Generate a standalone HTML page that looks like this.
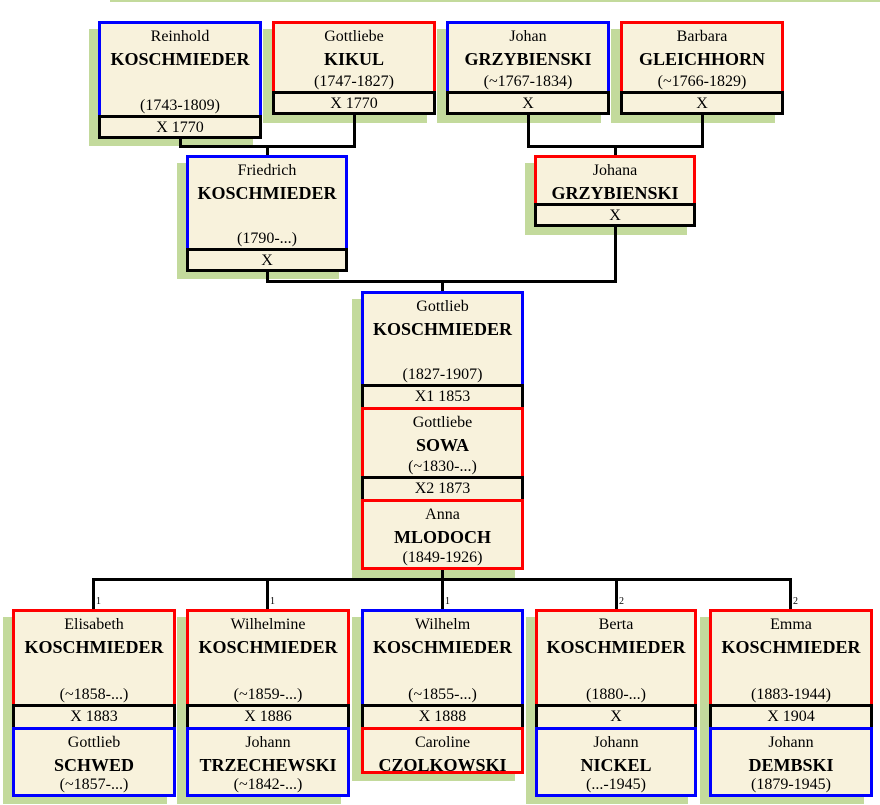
<!DOCTYPE html>
<html><head><meta charset="utf-8"><style>
body{margin:0;width:880px;height:805px;position:relative;background:#fff;font-family:"Liberation Serif",serif;color:#000;overflow:hidden}
.s{position:absolute;background:#c3da9c}
.b{position:absolute;box-sizing:border-box;border:3px solid #000;background:#f8f2dc;text-align:center}
.bl{border-color:#0000ff}.r{border-color:#ff0000}
.k{font-size:16px;line-height:20px}
.g{position:absolute;top:3px;left:0;right:0;font-size:16px;line-height:19px}
.n{position:absolute;top:24px;left:-4px;right:-4px;font-size:18px;line-height:22px;font-weight:bold}
.d{position:absolute;bottom:0px;left:0;right:0;font-size:16px;line-height:19px}
.l{position:absolute;background:#000}
.m{position:absolute;font-size:10px}
</style></head><body>
<div class="s" style="left:110px;top:0;width:770px;height:2px"></div>

<div class="s" style="left:89px;top:29px;width:164px;height:117px"></div>
<div class="s" style="left:263px;top:29px;width:164px;height:94px"></div>
<div class="s" style="left:437px;top:29px;width:164px;height:94px"></div>
<div class="s" style="left:611px;top:29px;width:164px;height:94px"></div>
<div class="s" style="left:177px;top:163px;width:162px;height:116px"></div>
<div class="s" style="left:525px;top:163px;width:162px;height:72px"></div>
<div class="s" style="left:352px;top:299px;width:163px;height:279px"></div>
<div class="s" style="left:3px;top:617px;width:164px;height:187px"></div>
<div class="s" style="left:177px;top:617px;width:164px;height:187px"></div>
<div class="s" style="left:352px;top:617px;width:163px;height:164px"></div>
<div class="s" style="left:526px;top:617px;width:162px;height:187px"></div>
<div class="s" style="left:700px;top:617px;width:164px;height:187px"></div>

<div class="l" style="left:179px;top:137px;width:3px;height:11px"></div>
<div class="l" style="left:353px;top:114px;width:3px;height:34px"></div>
<div class="l" style="left:179px;top:145px;width:177px;height:3px"></div>
<div class="l" style="left:266px;top:145px;width:3px;height:11px"></div>
<div class="l" style="left:527px;top:114px;width:3px;height:34px"></div>
<div class="l" style="left:701px;top:114px;width:3px;height:34px"></div>
<div class="l" style="left:527px;top:145px;width:177px;height:3px"></div>
<div class="l" style="left:614px;top:145px;width:3px;height:11px"></div>
<div class="l" style="left:266px;top:270px;width:3px;height:13px"></div>
<div class="l" style="left:614px;top:226px;width:3px;height:57px"></div>
<div class="l" style="left:266px;top:280px;width:351px;height:3px"></div>
<div class="l" style="left:441px;top:280px;width:3px;height:12px"></div>
<div class="l" style="left:441px;top:568px;width:3px;height:12px"></div>
<div class="l" style="left:92px;top:578px;width:700px;height:3px"></div>
<div class="l" style="left:92px;top:578px;width:3px;height:32px"></div>
<div class="l" style="left:266px;top:578px;width:3px;height:32px"></div>
<div class="l" style="left:441px;top:578px;width:3px;height:32px"></div>
<div class="l" style="left:615px;top:578px;width:3px;height:32px"></div>
<div class="l" style="left:789px;top:578px;width:3px;height:32px"></div>
<div class="m" style="left:96px;top:596px">1</div>
<div class="m" style="left:270px;top:596px">1</div>
<div class="m" style="left:445px;top:596px">1</div>
<div class="m" style="left:619px;top:596px">2</div>
<div class="m" style="left:793px;top:596px">2</div>

<div class="b bl" style="left:98px;top:21px;width:164px;height:97px"><div class="g">Reinhold</div><div class="n">KOSCHMIEDER</div><div class="d">(1743-1809)</div></div>
<div class="b k" style="left:98px;top:115px;width:164px;height:24px">X 1770</div>
<div class="b r" style="left:272px;top:21px;width:164px;height:73px"><div class="g">Gottliebe</div><div class="n">KIKUL</div><div class="d">(1747-1827)</div></div>
<div class="b k" style="left:272px;top:91px;width:164px;height:24px">X 1770</div>
<div class="b bl" style="left:446px;top:21px;width:164px;height:73px"><div class="g">Johan</div><div class="n">GRZYBIENSKI</div><div class="d">(~1767-1834)</div></div>
<div class="b k" style="left:446px;top:91px;width:164px;height:24px">X</div>
<div class="b r" style="left:620px;top:21px;width:164px;height:73px"><div class="g">Barbara</div><div class="n">GLEICHHORN</div><div class="d">(~1766-1829)</div></div>
<div class="b k" style="left:620px;top:91px;width:164px;height:24px">X</div>

<div class="b bl" style="left:186px;top:155px;width:162px;height:96px"><div class="g">Friedrich</div><div class="n">KOSCHMIEDER</div><div class="d">(1790-...)</div></div>
<div class="b k" style="left:186px;top:248px;width:162px;height:24px">X</div>
<div class="b r" style="left:534px;top:155px;width:162px;height:51px"><div class="g">Johana</div><div class="n">GRZYBIENSKI</div></div>
<div class="b k" style="left:534px;top:203px;width:162px;height:24px">X</div>

<div class="b bl" style="left:361px;top:291px;width:163px;height:96px"><div class="g">Gottlieb</div><div class="n">KOSCHMIEDER</div><div class="d">(1827-1907)</div></div>
<div class="b k" style="left:361px;top:384px;width:163px;height:26px">X1 1853</div>
<div class="b r" style="left:361px;top:407px;width:163px;height:72px"><div class="g">Gottliebe</div><div class="n">SOWA</div><div class="d">(~1830-...)</div></div>
<div class="b k" style="left:361px;top:476px;width:163px;height:26px">X2 1873</div>
<div class="b r" style="left:361px;top:499px;width:163px;height:71px"><div class="g">Anna</div><div class="n">MLODOCH</div><div class="d">(1849-1926)</div></div>

<div class="b r" style="left:12px;top:609px;width:164px;height:98px"><div class="g">Elisabeth</div><div class="n">KOSCHMIEDER</div><div class="d">(~1858-...)</div></div>
<div class="b k" style="left:12px;top:704px;width:164px;height:26px">X 1883</div>
<div class="b bl" style="left:12px;top:727px;width:164px;height:70px"><div class="g">Gottlieb</div><div class="n">SCHWED</div><div class="d">(~1857-...)</div></div>

<div class="b r" style="left:186px;top:609px;width:164px;height:98px"><div class="g">Wilhelmine</div><div class="n">KOSCHMIEDER</div><div class="d">(~1859-...)</div></div>
<div class="b k" style="left:186px;top:704px;width:164px;height:26px">X 1886</div>
<div class="b bl" style="left:186px;top:727px;width:164px;height:70px"><div class="g">Johann</div><div class="n">TRZECHEWSKI</div><div class="d">(~1842-...)</div></div>

<div class="b bl" style="left:361px;top:609px;width:163px;height:98px"><div class="g">Wilhelm</div><div class="n">KOSCHMIEDER</div><div class="d">(~1855-...)</div></div>
<div class="b k" style="left:361px;top:704px;width:163px;height:26px">X 1888</div>
<div class="b r" style="left:361px;top:727px;width:163px;height:47px"><div class="g">Caroline</div><div class="n">CZOLKOWSKI</div></div>

<div class="b r" style="left:535px;top:609px;width:162px;height:98px"><div class="g">Berta</div><div class="n">KOSCHMIEDER</div><div class="d">(1880-...)</div></div>
<div class="b k" style="left:535px;top:704px;width:162px;height:26px">X</div>
<div class="b bl" style="left:535px;top:727px;width:162px;height:70px"><div class="g">Johann</div><div class="n">NICKEL</div><div class="d">(...-1945)</div></div>

<div class="b r" style="left:709px;top:609px;width:164px;height:98px"><div class="g">Emma</div><div class="n">KOSCHMIEDER</div><div class="d">(1883-1944)</div></div>
<div class="b k" style="left:709px;top:704px;width:164px;height:26px">X 1904</div>
<div class="b bl" style="left:709px;top:727px;width:164px;height:70px"><div class="g">Johann</div><div class="n">DEMBSKI</div><div class="d">(1879-1945)</div></div>
</body></html>
